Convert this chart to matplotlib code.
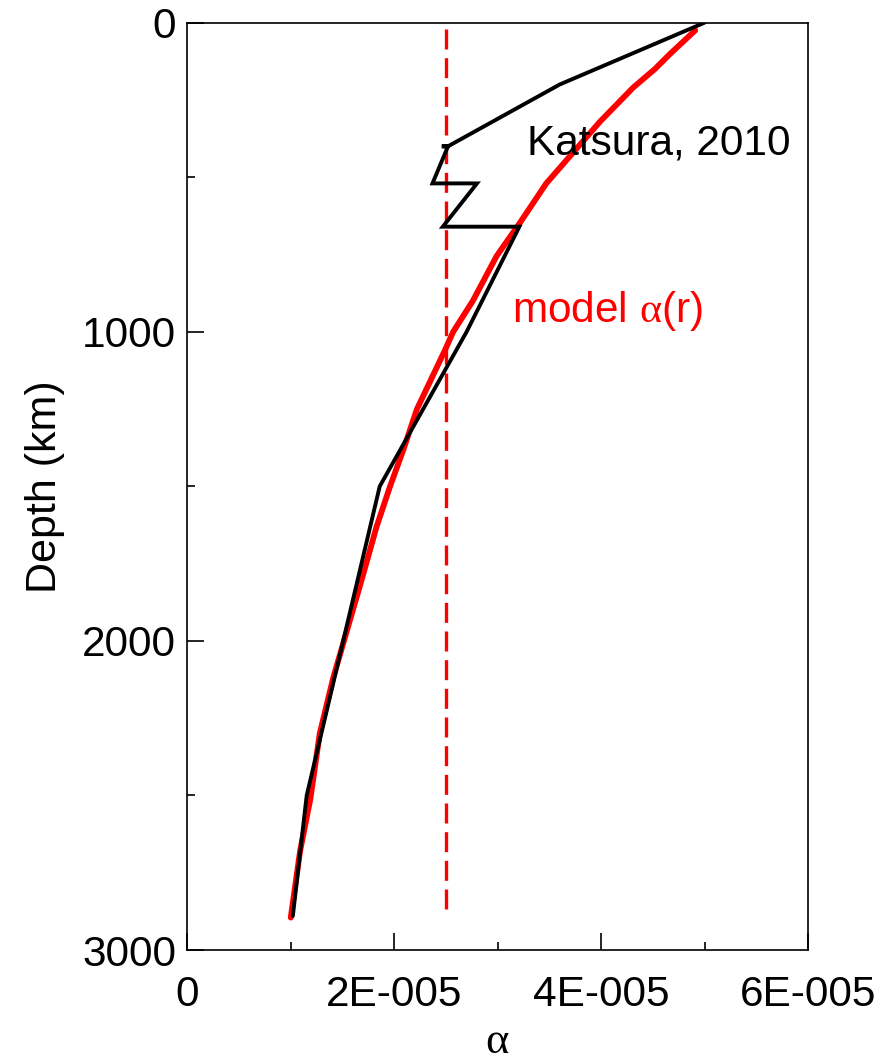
import matplotlib
matplotlib.use("Agg")
import matplotlib.pyplot as plt
import numpy as np

# Thermal expansivity profile after Katsura et al. (2010)
katsura_depth = [0, 200, 400, 400, 400, 520, 520, 660, 660, 1000, 1500, 2500, 2890]
katsura_alpha = [5.00e-5, 3.60e-5, 2.52e-5, 2.46e-5, 2.52e-5, 2.37e-5, 2.80e-5,
                 2.47e-5, 3.21e-5, 2.70e-5, 1.86e-5, 1.154e-5, 1.02e-5]

# Model alpha(r) profile
model_depth = [25, 100, 150, 210, 320, 420, 520, 650, 755, 900, 1000, 1060, 1250,
               1380, 1500, 1630, 1820, 2120, 2300, 2510, 2680, 2835, 2895]
model_alpha = [4.91e-5, 4.67e-5, 4.52e-5, 4.31e-5, 3.99e-5, 3.73e-5, 3.47e-5,
               3.21e-5, 2.99e-5, 2.76e-5, 2.57e-5, 2.49e-5, 2.22e-5, 2.09e-5,
               1.96e-5, 1.83e-5, 1.67e-5, 1.41e-5, 1.28e-5, 1.19e-5, 1.09e-5,
               1.025e-5, 1.00e-5]

# Constant reference value
const_alpha = 2.5e-5
const_depth = [20, 2880]

x_ticks = [0, 2e-5, 4e-5, 6e-5]
x_tick_labels = ["0", "2E-005", "4E-005", "6E-005"]
y_ticks = [0, 1000, 2000, 3000]
y_tick_labels = ["0", "1000", "2000", "3000"]

plt.rcParams["font.family"] = ["Liberation Sans", "DejaVu Sans"]
plt.rcParams["mathtext.fontset"] = "custom"
plt.rcParams["mathtext.rm"] = "Liberation Serif"

fig = plt.figure(figsize=(8.84, 10.64), dpi=100)
ax = fig.add_axes([0.2119, 0.1071, 0.914 - 0.2119, 0.9787 - 0.1071])

ax.plot(model_alpha, model_depth, color="#ff0000", lw=4.2, solid_capstyle="round",
        solid_joinstyle="round", zorder=2)
ax.plot(katsura_alpha, katsura_depth, color="black", lw=2.8, solid_capstyle="round",
        solid_joinstyle="miter", zorder=3)
ax.plot([const_alpha, const_alpha], const_depth, color="#ff0000", lw=2.4,
        dashes=(6, 2.6), zorder=1)

ax.set_xlim(0, 6e-5)
ax.set_ylim(3000, 0)

ax.set_xticks(x_ticks)
ax.set_xticklabels(x_tick_labels)
ax.set_yticks(y_ticks)
ax.set_yticklabels(y_tick_labels)
ax.set_xticks([1e-5, 3e-5, 5e-5], minor=True)
ax.set_yticks([500, 1500, 2500], minor=True)

ax.tick_params(axis="both", which="major", direction="in", length=12, width=1.2,
               labelsize=30.5, colors="black")
ax.tick_params(axis="both", which="minor", direction="in", length=5.5, width=1.2)
ax.tick_params(axis="x", which="major", pad=18)
ax.tick_params(axis="y", which="major", pad=8)

for s in ax.spines.values():
    s.set_linewidth(1.2)

ax.set_ylabel("Depth (km)", fontsize=31, labelpad=12)
ax.set_xlabel(r"$\mathrm{\alpha}$", fontsize=32)
ax.xaxis.label.set_va("baseline")
ax.xaxis.set_label_coords(0.5, -0.1105)

ax.text(3.28e-5, 427, "Katsura, 2010", fontsize=30.5, color="black",
        ha="left", va="baseline")
ax.text(3.135e-5, 969, r"model $\mathrm{\alpha}$(r)", fontsize=30.5, color="#ff0000",
        ha="left", va="baseline")

fig.savefig("out.png", dpi=100)
